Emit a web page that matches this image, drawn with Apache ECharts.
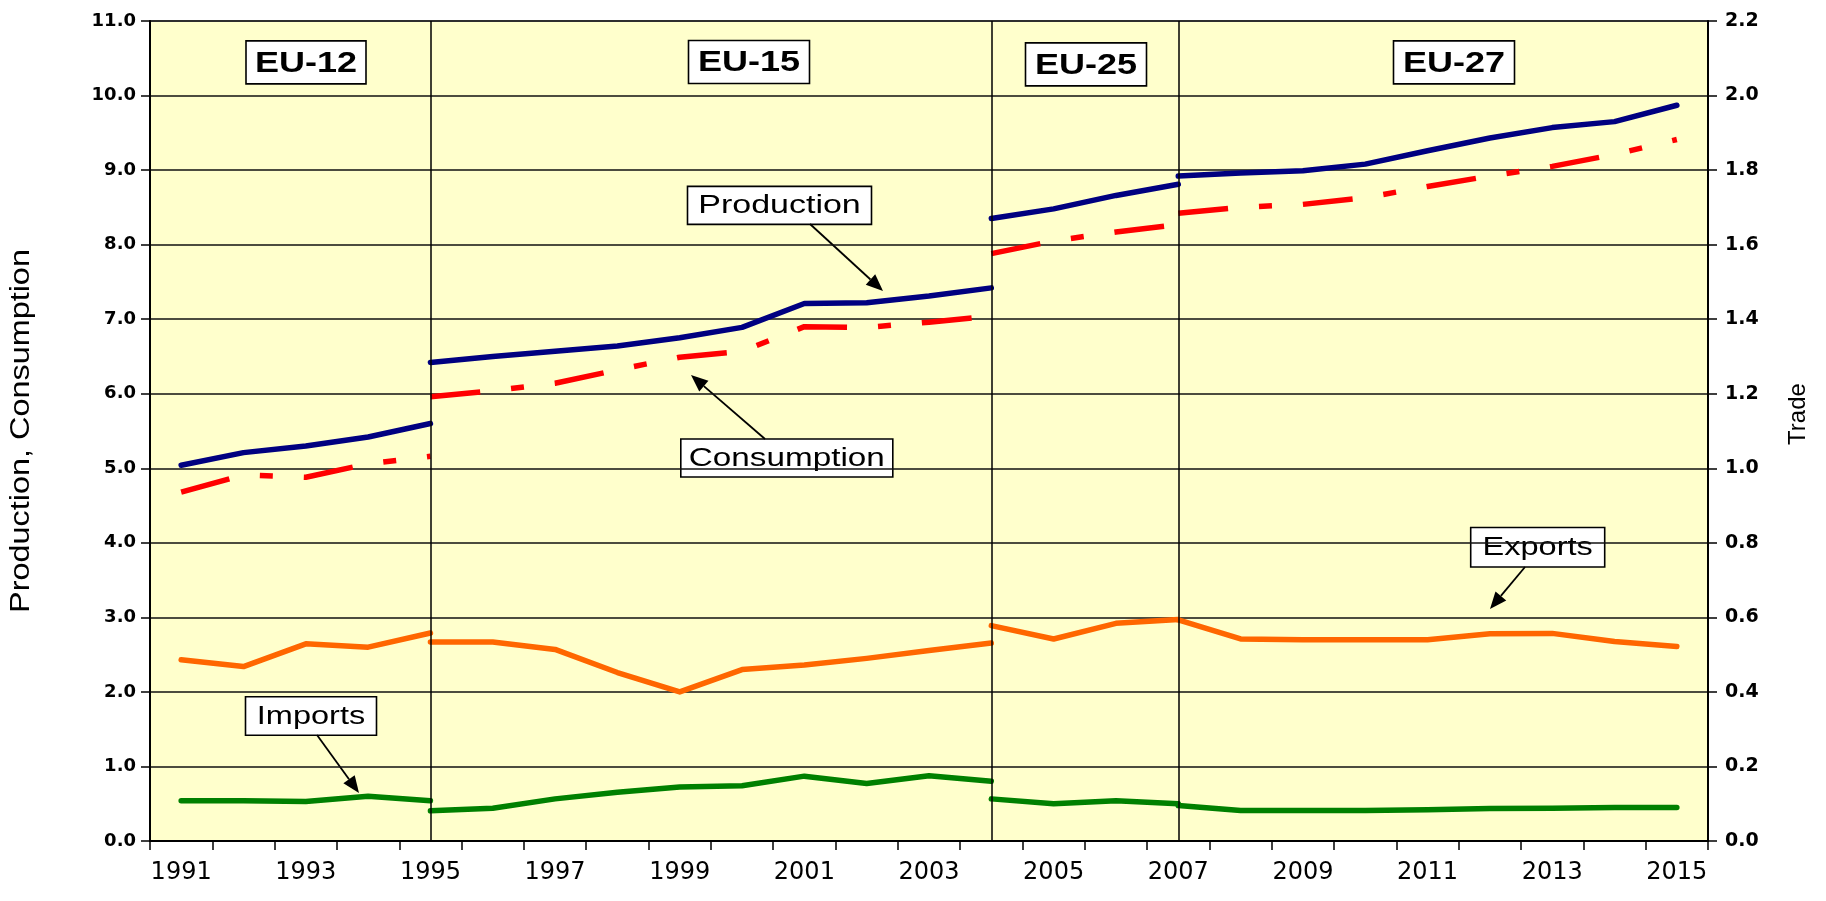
<!DOCTYPE html>
<html>
<head>
<meta charset="utf-8">
<script src="https://cdn.jsdelivr.net/npm/echarts@6/dist/echarts.min.js"></script>
<style>
  html, body { margin: 0; padding: 0; background: #ffffff; }
  #chart { width: 1826px; height: 901px; }
</style>
</head>
<body>
<div id="chart"></div>
<script>
// ---------------- DATA ----------------
const years = ['1991','1992','1993','1994','1995','1996','1997','1998','1999','2000','2001','2002','2003',
               '2004','2005','2006','2007','2008','2009','2010','2011','2012','2013','2014','2015'];

const eraNames = ['EU-12', 'EU-15', 'EU-25', 'EU-27'];
const eraFirstYear = ['1991', '1995', '2004', '2007'];
const dividerYears = ['1995', '2004', '2007'];

// Production, Consumption (left axis)
const productionEU12 = [5.04, 5.21, 5.30, 5.42, 5.60];
const productionEU15 = [6.42, 6.50, 6.57, 6.64, 6.75, 6.89, 7.21, 7.22, 7.31, 7.42];
const productionEU25 = [8.35, 8.48, 8.66, 8.81];
const productionEU27 = [8.92, 8.96, 8.99, 9.08, 9.26, 9.43, 9.57, 9.65, 9.87];

const consumptionEU12 = [4.68, 4.91, 4.88, 5.06, 5.16];
const consumptionEU15 = [5.96, 6.04, 6.14, 6.32, 6.49, 6.57, 6.90, 6.89, 6.96, 7.04];
const consumptionEU25 = [7.88, 8.05, 8.17, 8.27];
const consumptionEU27 = [8.42, 8.50, 8.54, 8.63, 8.78, 8.92, 9.05, 9.21, 9.41];

// Trade (right axis)
const exportsEU12 = [0.486, 0.468, 0.529, 0.520, 0.558];
const exportsEU15 = [0.534, 0.534, 0.514, 0.452, 0.400, 0.460, 0.472, 0.490, 0.511, 0.531];
const exportsEU25 = [0.578, 0.542, 0.584, 0.594];
const exportsEU27 = [0.593, 0.542, 0.540, 0.540, 0.540, 0.556, 0.557, 0.535, 0.522];

const importsEU12 = [0.108, 0.108, 0.106, 0.120, 0.108];
const importsEU15 = [0.081, 0.088, 0.113, 0.131, 0.145, 0.148, 0.174, 0.154, 0.175, 0.160];
const importsEU25 = [0.113, 0.100, 0.108, 0.100];
const importsEU27 = [0.095, 0.082, 0.082, 0.082, 0.084, 0.087, 0.088, 0.090, 0.090];

const leftTicks = ['0.0','1.0','2.0','3.0','4.0','5.0','6.0','7.0','8.0','9.0','10.0','11.0'];
const rightTicks = ['0.0','0.2','0.4','0.6','0.8','1.0','1.2','1.4','1.6','1.8','2.0','2.2'];

// ---------------- BUILD ----------------
const chart = echarts.init(document.getElementById('chart'), null, { renderer: 'canvas' });

function seg(values, firstYear) {
  const start = years.indexOf(firstYear);
  return values.map((v, i) => [start + i, v]);
}

const measures = [
  { key: 'Production', eras: [productionEU12, productionEU15, productionEU25, productionEU27],
    color: '#000080', axis: 0, dash: 'solid', cap: 'round' },
  { key: 'Consumption', eras: [consumptionEU12, consumptionEU15, consumptionEU25, consumptionEU27],
    color: '#FF0000', axis: 0, dash: [50, 31, 13, 31], cap: 'butt' },
  { key: 'Exports', eras: [exportsEU12, exportsEU15, exportsEU25, exportsEU27],
    color: '#FF6600', axis: 1, dash: 'solid', cap: 'round' },
  { key: 'Imports', eras: [importsEU12, importsEU15, importsEU25, importsEU27],
    color: '#008000', axis: 1, dash: 'solid', cap: 'round' }
];

const series = [];
measures.forEach(m => {
  m.eras.forEach((vals, k) => {
    series.push({
      name: m.key + ' ' + eraNames[k],
      type: 'line',
      yAxisIndex: m.axis,
      data: seg(vals, eraFirstYear[k]),
      showSymbol: false,
      symbol: 'none',
      smooth: false,
      z: 3,
      lineStyle: { color: m.color, width: 5.5, type: m.dash, cap: m.cap, join: 'round' }
    });
  });
});

// Era dividers as markLine on an empty helper series
series.push({
  name: 'dividers',
  type: 'line',
  data: [],
  z: 2,
  markLine: {
    silent: true,
    symbol: ['none', 'none'],
    label: { show: false },
    lineStyle: { color: '#000', width: 1.5, type: 'solid' },
    data: dividerYears.map(y => ({ xAxis: years.indexOf(y) }))
  }
});

const FONT = '"Liberation Sans", Arial, sans-serif';

function labelBox(cx, cy, w, h, text, size, weight, sx) {
  return {
    type: 'group',
    z: 10,
    children: [
      { type: 'rect', shape: { x: cx - w / 2, y: cy - h / 2, width: w, height: h },
        style: { fill: '#fff', stroke: '#000', lineWidth: 1.6 } },
      { type: 'text', x: cx, y: cy + 1, scaleX: sx,
        style: { text: text, fill: '#000', font: weight + ' ' + size + 'px ' + FONT,
                 textAlign: 'center', textVerticalAlign: 'middle', align: 'center', verticalAlign: 'middle' } }
    ]
  };
}

function arrow(x1, y1, x2, y2) {
  const ang = Math.atan2(y2 - y1, x2 - x1);
  const L = 17, W = 7;
  const bx = x2 - L * Math.cos(ang), by = y2 - L * Math.sin(ang);
  const px = -Math.sin(ang), py = Math.cos(ang);
  return {
    type: 'group', z: 10,
    children: [
      { type: 'line', shape: { x1: x1, y1: y1, x2: bx, y2: by }, style: { stroke: '#000', lineWidth: 1.8 } },
      { type: 'polygon', shape: { points: [[x2, y2], [bx + W * px, by + W * py], [bx - W * px, by - W * py]] },
        style: { fill: '#000' } }
    ]
  };
}

const graphics = [
  labelBox(306, 62.4, 120, 43, eraNames[0], 30, 'bold', 1.2),
  labelBox(749, 62, 121, 43, eraNames[1], 30, 'bold', 1.2),
  labelBox(1086, 64.4, 121, 43, eraNames[2], 30, 'bold', 1.2),
  labelBox(1454, 62.4, 121, 43, eraNames[3], 30, 'bold', 1.2),
  labelBox(779.5, 205.4, 184, 38, 'Production', 25, 'normal', 1.36),
  labelBox(786.8, 458, 212, 38, 'Consumption', 25, 'normal', 1.33),
  labelBox(311, 716, 131, 38.5, 'Imports', 25, 'normal', 1.3),
  labelBox(1537.7, 547.2, 134, 39.5, 'Exports', 25, 'normal', 1.3),
  arrow(810, 224, 883, 291),
  arrow(765, 439, 691, 375),
  arrow(317, 735, 359, 793),
  arrow(1525, 567, 1490, 609),
  { type: 'text', x: 22, y: 431, rotation: Math.PI / 2, scaleX: 1.2,
    style: { text: 'Production, Consumption', fill: '#000', font: 'normal 27px ' + FONT,
             textAlign: 'center', textVerticalAlign: 'middle', align: 'center', verticalAlign: 'middle' } },
  { type: 'text', x: 1798, y: 414, rotation: Math.PI / 2,
    style: { text: 'Trade', fill: '#000', font: 'normal 24px ' + FONT,
             textAlign: 'center', textVerticalAlign: 'middle', align: 'center', verticalAlign: 'middle' } }
];

const xTickFont = { fontFamily: '"DejaVu Sans", sans-serif', color: '#000' };
const yTickFont = { fontFamily: '"DejaVu Sans", sans-serif', color: '#000' };

const option = {
  animation: false,
  backgroundColor: '#ffffff',
  grid: {
    left: 150, right: 118, top: 21, bottom: 60,
    show: true, backgroundColor: '#FFFFCC', borderColor: '#8c8c8c', borderWidth: 2
  },
  xAxis: {
    type: 'category',
    data: years,
    boundaryGap: true,
    axisLine: { show: true, onZero: false, lineStyle: { color: '#000', width: 2 } },
    axisTick: { show: true, interval: 0, length: 9, lineStyle: { color: '#000', width: 1.5 } },
    axisLabel: { interval: 1, margin: 20, fontSize: 24, ...xTickFont },
    splitLine: { show: false }
  },
  yAxis: [
    {
      type: 'value', min: 0, max: 11, interval: 1, position: 'left',
      axisLine: { show: true, lineStyle: { color: '#000', width: 2 } },
      axisTick: { show: true, length: 9, lineStyle: { color: '#000', width: 1.5 } },
      axisLabel: { margin: 14, fontSize: 18, fontWeight: 'bold', ...yTickFont,
                   formatter: (v) => leftTicks[Math.round(v)] },
      splitLine: { show: true, lineStyle: { color: '#111', width: 1.6 } }
    },
    {
      type: 'value', min: 0, max: 2.2, interval: 0.2, position: 'right',
      axisLine: { show: true, lineStyle: { color: '#000', width: 2 } },
      axisTick: { show: true, length: 9, lineStyle: { color: '#000', width: 1.5 } },
      axisLabel: { margin: 17, fontSize: 19, fontWeight: 'bold', ...yTickFont,
                   formatter: (v) => rightTicks[Math.round(v * 5)] },
      splitLine: { show: false }
    }
  ],
  series: series,
  graphic: graphics
};

chart.setOption(option);
</script>
</body>
</html>
